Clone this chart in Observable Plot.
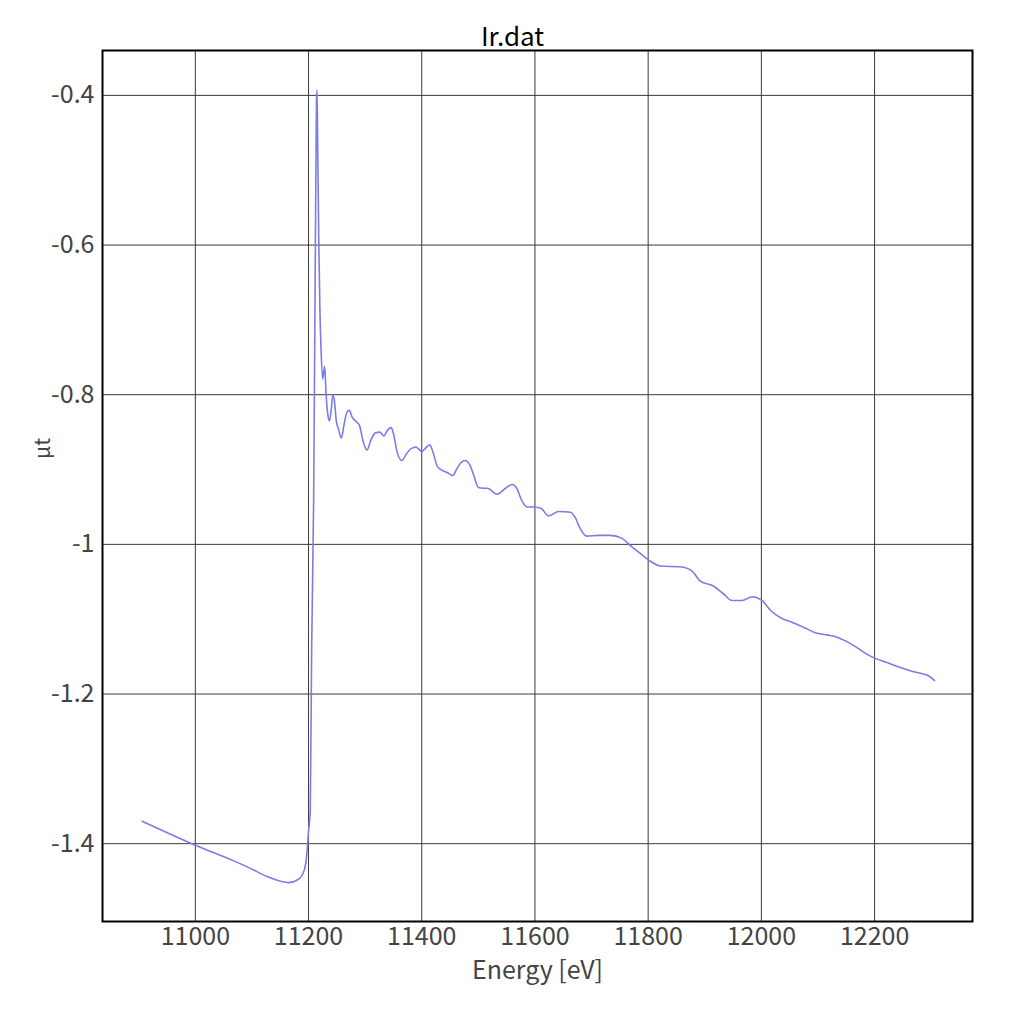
<!DOCTYPE html>
<html>
<head>
<meta charset="utf-8">
<script src="https://cdn.jsdelivr.net/npm/d3@7"></script>
<script src="https://cdn.jsdelivr.net/npm/@observablehq/plot@0.6"></script>
<style>
  body { margin: 0; background: #fff; }
</style>
</head>
<body>
<div id="graph"></div>
<script>
const energy = [
  10906, 11000, 11068, 11100, 11127, 11145, 11165, 11183, 11193, 11197, 11200, 11203,
  11205.5, 11209, 11212, 11214, 11215, 11216, 11218, 11220, 11222, 11225,
  11228.5, 11231, 11234, 11237, 11240, 11243, 11246, 11249, 11253, 11258,
  11263, 11268, 11272, 11277, 11283, 11290, 11296, 11303, 11310, 11318,
  11326, 11333, 11340, 11346, 11350, 11356, 11365, 11373, 11381, 11390,
  11400, 11406, 11414, 11420, 11427, 11436, 11445, 11455, 11462, 11469,
  11477, 11485, 11492, 11500, 11509, 11516, 11533, 11548, 11560, 11567,
  11577, 11586, 11598, 11611, 11624, 11642, 11663, 11671, 11680, 11691,
  11713, 11733, 11754, 11769, 11786, 11801, 11822, 11857, 11878, 11892,
  11916, 11933, 11948, 11966, 11984, 12001, 12016, 12034, 12054, 12075,
  12095, 12116, 12134, 12151, 12169, 12187, 12200, 12222, 12243, 12263,
  12284, 12296, 12306
];
const mu = [
  -1.370, -1.402, -1.423, -1.434, -1.444, -1.449, -1.452, -1.447, -1.434, -1.414, -1.383, -1.358,
  -1.140, -0.942, -0.612, -0.407, -0.393, -0.456, -0.589, -0.683, -0.737, -0.779,
  -0.762, -0.799, -0.826, -0.835, -0.821, -0.800, -0.810, -0.835, -0.846, -0.858,
  -0.839, -0.823, -0.821, -0.830, -0.835, -0.841, -0.861, -0.874, -0.861, -0.851,
  -0.850, -0.855, -0.847, -0.844, -0.852, -0.875, -0.888, -0.879, -0.872, -0.870,
  -0.876, -0.872, -0.867, -0.877, -0.895, -0.901, -0.904, -0.908, -0.899, -0.891,
  -0.888, -0.894, -0.908, -0.924, -0.925, -0.925, -0.933, -0.925, -0.920, -0.924,
  -0.942, -0.950, -0.950, -0.952, -0.962, -0.956, -0.957, -0.964, -0.979, -0.989,
  -0.988, -0.988, -0.992, -1.002, -1.012, -1.021, -1.029, -1.030, -1.036, -1.049,
  -1.056, -1.066, -1.075, -1.075, -1.070, -1.075, -1.088, -1.098, -1.104, -1.111,
  -1.118, -1.121, -1.124, -1.130, -1.138, -1.147, -1.152, -1.158, -1.164, -1.169,
  -1.173, -1.176, -1.182
];
const xTicks = [11000, 11200, 11400, 11600, 11800, 12000, 12200];
const yTicks = [-1.4, -1.2, -1, -0.8, -0.6, -0.4];
const title = "Ir.dat";
const xLabel = "Energy [eV]";
const yLabel = "μt";

const data = energy.map((e, i) => ({energy: e, mu: mu[i]}));

const plot = Plot.plot({
  width: 1024,
  height: 1024,
  marginLeft: 102,
  marginRight: 52,
  marginTop: 50,
  marginBottom: 103,
  style: {fontFamily: "'Noto Sans CJK JP', 'Noto Sans', sans-serif", background: "#fff"},
  x: {domain: [10836, 12373], ticks: xTicks, tickFormat: d => String(d)},
  y: {domain: [-1.504, -0.34], ticks: yTicks, tickFormat: d => `${+d.toFixed(1)}`},
  marks: [
    Plot.gridX(xTicks, {stroke: "#3a3a3a", strokeOpacity: 1, strokeWidth: 1}),
    Plot.gridY(yTicks, {stroke: "#3a3a3a", strokeOpacity: 1, strokeWidth: 1}),
    Plot.axisX(xTicks, {tickSize: 0, tickPadding: 6, fontSize: 25, fill: "#444", label: null, tickFormat: d => String(d)}),
    Plot.axisY(yTicks, {tickSize: 0, tickPadding: 8, fontSize: 25, fill: "#444", label: null, tickFormat: d => `${+d.toFixed(1)}`}),
    Plot.line(data, {x: "energy", y: "mu", stroke: "#7c7ce8", strokeWidth: 1.6, curve: "monotone-x"}),
    Plot.frame({stroke: "black", strokeWidth: 2}),
    Plot.text([title], {frameAnchor: "top", lineAnchor: "bottom", dx: -25, dy: -5, fontSize: 26, fill: "black"}),
    Plot.text([xLabel], {frameAnchor: "bottom", lineAnchor: "bottom", dy: 57, fontSize: 25, fill: "#444"}),
    Plot.text([yLabel], {frameAnchor: "left", dx: -59, dy: -27, rotate: -90, fontSize: 21, fill: "#444"})
  ]
});

d3.select("#graph").append(() => plot);
</script>
</body>
</html>
